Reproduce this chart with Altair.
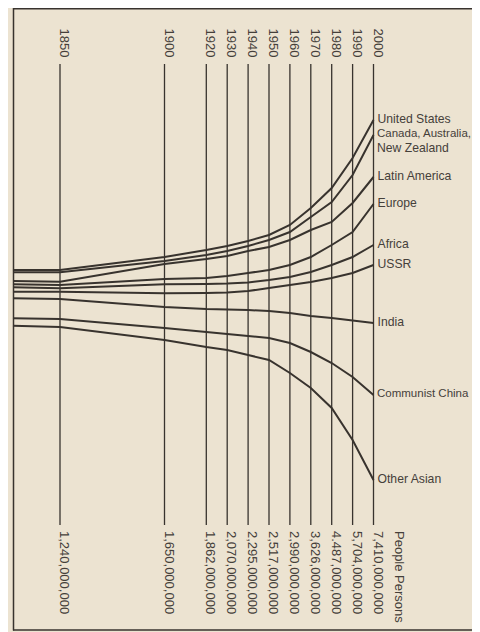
import altair as alt
import pandas as pd

# ---------------- data ----------------
# x positions of the series vertices (the first one is where the drawing starts, at the frame)
years = [1827.5, 1850, 1900, 1920, 1930, 1940, 1950, 1960, 1970, 1980, 1990, 2000]

# relative position of each region's line (arbitrary units, up = larger)
united_states = [20, 20, 33, 40, 44, 49, 55, 65, 82, 102, 132, 170]
canada_aus_nz = [17.7, 17.7, 29, 35, 39, 44, 50, 58, 73, 88, 115, 155]
latin_america = [9, 8.3, 26, 31, 34, 39, 43, 50, 60, 68, 87, 113]
europe = [5.7, 5, 11, 12, 14, 17, 20, 25, 33, 45, 58, 86]
africa = [2.7, 1.7, 5.7, 6, 6.5, 7.5, 10, 13, 18, 25, 33, 45]
ussr = [-1.7, -1.7, -3.3, -3, -2.5, -1, 2, 5, 8, 12, 17, 25]
india = [-8.3, -9, -17, -19, -19.5, -20, -21, -23, -26, -28, -30.5, -33]
communist_china = [-28.3, -29, -38, -42, -44, -46, -48, -53, -62, -73, -87, -105]
other_asian = [-35.7, -37, -50, -57, -60, -65, -70, -83, -98, -118, -150, -190]

regions = ["United States", "Canada, Australia, New Zealand", "Latin America", "Europe",
           "Africa", "USSR", "India", "Communist China", "Other Asian"]
first_lines = ["United States", "Canada, Australia,", "Latin America", "Europe",
               "Africa", "USSR", "India", "Communist China", "Other Asian"]
second_lines = ["", "New Zealand", "", "", "", "", "", "", ""]
series = [united_states, canada_aus_nz, latin_america, europe, africa, ussr,
          india, communist_china, other_asian]

tick_years = [1850, 1900, 1920, 1930, 1940, 1950, 1960, 1970, 1980, 1990, 2000]
populations = ["1,240,000,000", "1,650,000,000", "1,862,000,000", "2,070,000,000",
               "2,295,000,000", "2,517,000,000", "2,990,000,000", "3,626,000,000",
               "4.487,000,000", "5,704,000,000", "7,410,000,000"]
unit_label = "People Persons"

# ---------------- tables ----------------
rows = []
for reg, vals in zip(regions, series):
    for yr, v in zip(years, vals):
        rows.append({"region": reg, "year": yr, "value": v})
df = pd.DataFrame(rows)

lab_df = pd.DataFrame({
    "region": regions,
    "line1": first_lines,
    "line2": second_lines,
    "year": [years[-1]] * len(regions),
    "value": [s[-1] for s in series],
})
# long labels get a slightly smaller font so that they stay inside the page
is_long = lab_df["line1"].str.len() > 14
lab_short = lab_df[~is_long]
lab_long = lab_df[is_long]
lab2_df = lab_df[lab_df["line2"] != ""]

tick_df = pd.DataFrame({"year": tick_years,
                        "year_label": [str(y) for y in tick_years],
                        "pop": populations})

# ---------------- style ----------------
bg = "#ECE3D1"
ink = "#38332e"
text_ink = "#45403a"
font = "Liberation Sans"

W, H = 464, 624
SCALE = 2.09  # px per year
X0 = 2000 - 365.5 / SCALE
xs = alt.Scale(domain=[X0, X0 + W / SCALE], nice=False, zero=False)
ys = alt.Scale(domain=[-342, 282], nice=False, zero=False)

X = alt.X("year:Q", scale=xs, axis=None)
Y = alt.Y("value:Q", scale=ys, axis=None)

vlines = alt.Chart(tick_df).mark_rule(color=ink, strokeWidth=1.3).encode(
    x=X, y=alt.value(56), y2=alt.value(517)
)

top_text = alt.Chart(tick_df).mark_text(
    angle=90, align="left", baseline="alphabetic", font=font, fontSize=13, color=text_ink
).encode(x=X, y=alt.value(20.5), text="year_label:N")

bottom_text = alt.Chart(tick_df).mark_text(
    angle=90, align="left", baseline="alphabetic", font=font, fontSize=13, color=text_ink
).encode(x=X, y=alt.value(523), text="pop:N")

unit_text = alt.Chart(pd.DataFrame({"t": [unit_label]})).mark_text(
    angle=90, align="left", baseline="alphabetic", font=font, fontSize=13, color=text_ink
).encode(x=alt.value(387), y=alt.value(523), text="t:N")

lines = alt.Chart(df).mark_line(color=ink, strokeWidth=2.0).encode(
    x=X, y=Y, detail="region:N", order="year:Q",
)

labels = alt.Chart(lab_short).mark_text(
    align="left", baseline="middle", dx=4, dy=-1, font=font, fontSize=12.2, color=text_ink
).encode(x=X, y=Y, text="line1:N")

labels_long = alt.Chart(lab_long).mark_text(
    align="left", baseline="middle", dx=3.5, dy=-1, font=font, fontSize=11.5, color=text_ink
).encode(x=X, y=Y, text="line1:N")

labels2 = alt.Chart(lab2_df).mark_text(
    align="left", baseline="middle", dx=3.5, dy=13, font=font, fontSize=12.2, color=text_ink
).encode(x=X, y=Y, text="line2:N")

one = pd.DataFrame({"a": [0]})
frame_top = alt.Chart(one).mark_rule(color=ink, strokeWidth=1.5).encode(
    x=alt.value(5), x2=alt.value(W), y=alt.value(0.8)
)
frame_left = alt.Chart(one).mark_rule(color=ink, strokeWidth=1.5).encode(
    x=alt.value(5.5), y=alt.value(0), y2=alt.value(622.5)
)
frame_bottom = alt.Chart(one).mark_rule(color=ink, strokeWidth=1.5).encode(
    x=alt.value(5), x2=alt.value(W), y=alt.value(622)
)

chart = alt.layer(
    frame_top, frame_left, frame_bottom, vlines, top_text, bottom_text, unit_text,
    lines, labels, labels_long, labels2
).properties(
    width=W, height=H, padding=0, background=bg,
    autosize=alt.AutoSizeParams(type="none"),
).configure_view(stroke=None)

chart.save("out.html", embed_options={"renderer": "svg", "actions": False})
